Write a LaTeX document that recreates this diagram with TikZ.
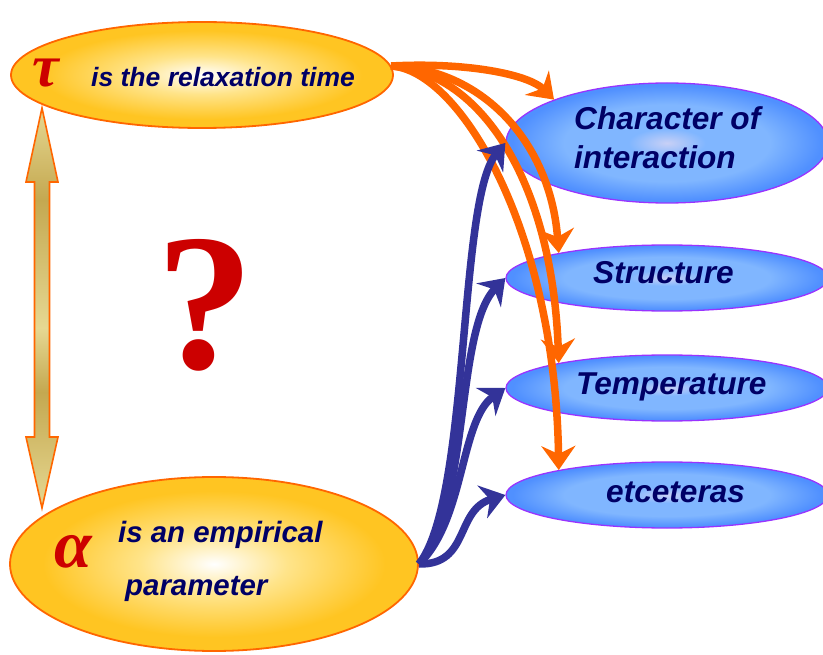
\documentclass[tikz,border=0pt]{standalone}
\usepackage{fontspec}
\setmainfont{Liberation Sans}
\newfontfamily\grk{Liberation Serif}
\newfontfamily\qfont{Liberation Serif}
\usetikzlibrary{shapes.geometric,arrows.meta}
\definecolor{orng}{HTML}{FF6600}
\definecolor{navy}{HTML}{000066}
\definecolor{redd}{HTML}{CC0000}
\definecolor{bline}{HTML}{333399}
\definecolor{purp}{HTML}{9933FF}
\definecolor{yelout}{HTML}{FFC522}
\definecolor{yelmid}{HTML}{FFE48A}
\definecolor{bluout}{HTML}{5090FF}
\definecolor{blumid}{HTML}{80B6FF}
\definecolor{bluin}{HTML}{C8D0F6}
\definecolor{khl}{HTML}{E6D892}
\definecolor{khd}{HTML}{C4A850}
\pgfdeclareradialshading{yelshade}{\pgfpoint{0bp}{0bp}}{color(0bp)=(white); color(9bp)=(yelmid); color(21bp)=(yelout); color(50bp)=(yelout)}
\pgfdeclareradialshading{blushade}{\pgfpoint{0bp}{0bp}}{color(0bp)=(bluin); color(6bp)=(blumid); color(16bp)=(blumid); color(24bp)=(bluout); color(50bp)=(bluout)}
\pgfdeclareverticalshading{khaki}{100bp}{color(0bp)=(khl); color(25bp)=(khl); color(39.5bp)=(khd); color(47.5bp)=(khl); color(63.5bp)=(khd); color(75bp)=(khl); color(100bp)=(khl)}
\tikzset{
  yel/.style={ellipse, draw=orng, line width=1.8pt, shading=yelshade, inner sep=0pt},
  blu/.style={ellipse, draw=purp, line width=1.3pt, shading=blushade, inner sep=0pt, minimum width=322pt},
  txt/.style={text=navy, font=\bfseries\itshape, inner sep=0pt, anchor=base west},
  gk/.style={text=redd, inner sep=0pt, anchor=base west},
  oarr/.style={draw=orng, line width=7.5pt, -{Stealth[length=24pt,width=34pt,inset=8pt]}},
  barr/.style={draw=bline, line width=7.5pt, -{Stealth[length=24pt,width=34pt,inset=8pt]}}
}
\begin{document}
\begin{tikzpicture}[x=1pt,y=-1pt]
\useasboundingbox (0,0) rectangle (823,655);
% ellipses
\node[yel, minimum width=382pt, minimum height=106pt] (tauE) at (202,75) {};
\node[yel, minimum width=408pt, minimum height=174pt] (alphaE) at (214,564) {};
\node[blu, minimum height=120pt] (charE) at (667,143) {};
\node[blu, minimum height=66pt] (structE) at (667,278) {};
\node[blu, minimum height=66pt] (tempE) at (667,388) {};
\node[blu, minimum height=66pt] (etcE) at (667,495) {};
% texts
\node[gk, font=\grk\bfseries\itshape\fontsize{60}{60}\selectfont] (tauS) at (32,87) {τ};
\node[txt, font=\bfseries\itshape\fontsize{26.5}{30}\selectfont] (tauT) at (91,87) {is the relaxation time};
\node[gk, font=\grk\bfseries\itshape\fontsize{68}{68}\selectfont] (alS) at (54,567) {α};
\node[txt, font=\bfseries\itshape\fontsize{29.4}{33}\selectfont] (alT1) at (118,542) {is an empirical};
\node[txt, font=\bfseries\itshape\fontsize{29.4}{33}\selectfont] (alT2) at (125,595) {parameter};
\node[txt, font=\bfseries\itshape\fontsize{31.6}{36}\selectfont] (chT1) at (574,130) {Character of};
\node[txt, font=\bfseries\itshape\fontsize{31.6}{36}\selectfont] (chT2) at (574,169) {interaction};
\node[txt, font=\bfseries\itshape\fontsize{31.6}{36}\selectfont] (stT) at (593,284) {Structure};
\node[txt, font=\bfseries\itshape\fontsize{31.6}{36}\selectfont] (teT) at (576,395) {Temperature};
\node[txt, font=\bfseries\itshape\fontsize{31.6}{36}\selectfont] (etT) at (606,502) {etceteras};
\node[text=redd, inner sep=0pt, font=\qfont\bfseries\fontsize{195}{195}\selectfont] (qm) at (205,305) {?};
% double arrow
\path[draw=orng, line width=1.6pt, shading=khaki]
  (42,108) -- (58,182) -- (49.5,182) -- (49.5,437) -- (58,437) -- (42,508)
  -- (26,437) -- (34.5,437) -- (34.5,182) -- (26,182) -- cycle;
% orange arrows
\coordinate (oS) at (391,66);
\draw[oarr] (oS) .. controls (465,62) and (528,74) .. (charE.159);
\draw[oarr] (oS) .. controls (480,68) and (550,140) .. (structE.167);
\draw[oarr] (oS) .. controls (480,72) and (552,180) .. (tempE.167);
\draw[oarr] (oS) .. controls (460,70) and (555,230) .. (etcE.167);
% blue arrows
\draw[barr] (alphaE.east) .. controls (470,500) and (458,200) .. (charE.west);
\draw[barr] (alphaE.east) .. controls (470,510) and (455,330) .. (structE.west);
\draw[barr] (alphaE.east) .. controls (465,520) and (460,420) .. (tempE.west);
\draw[barr] (alphaE.east) .. controls (470,565) and (455,510) .. (etcE.west);
\end{tikzpicture}
\end{document}
